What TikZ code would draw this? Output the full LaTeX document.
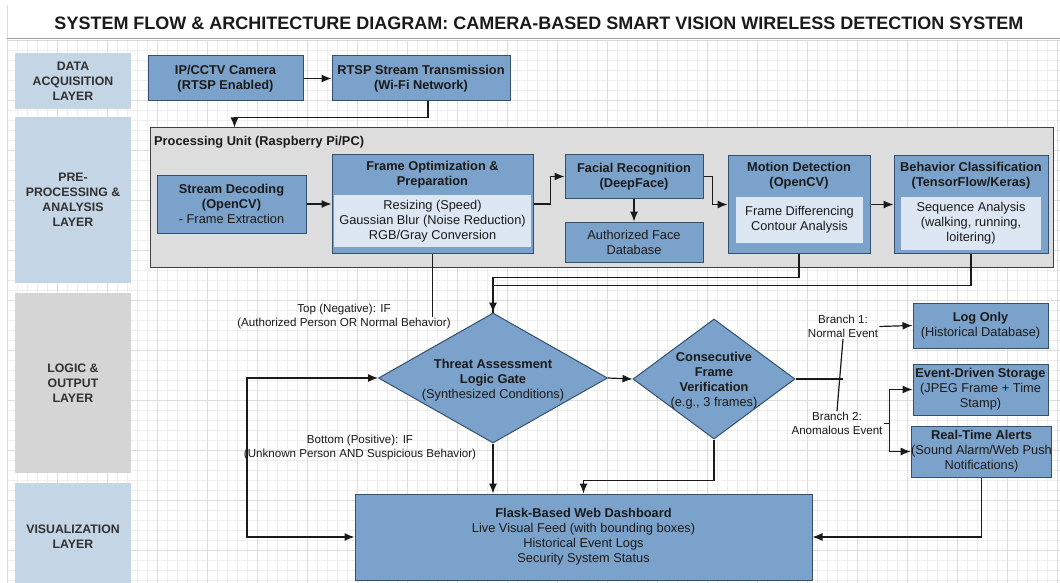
\documentclass[tikz,border=0pt]{standalone}
\usepackage{fontspec}
\setmainfont{Liberation Sans}
\usetikzlibrary{shapes.geometric,arrows.meta,calc}

\definecolor{boxblue}{HTML}{7BA2CA}
\definecolor{boxedge}{HTML}{34506E}
\definecolor{innerblue}{HTML}{DCE7F3}
\definecolor{layerblue}{HTML}{C4D5E5}
\definecolor{layergray}{HTML}{D5D5D5}
\definecolor{unitgray}{HTML}{DDDDDD}
\definecolor{gridminor}{HTML}{EEEEEE}
\definecolor{gridmajor}{HTML}{DDDDDD}
\definecolor{ink}{HTML}{1A1A1A}

\newcommand\bxf{\fontsize{12.8}{15}\selectfont}
\newcommand\lblf{\fontsize{11.6}{14}\selectfont}
\newcommand\layf{\fontsize{12.3}{15}\selectfont}
\newcommand\ttlf{\fontsize{18}{22}\selectfont}

\tikzset{
  box/.style={draw=boxedge, fill=boxblue, line width=1pt, inner sep=0pt, align=center, font=\bxf, text=ink},
  innerbox/.style={fill=innerblue, draw=none, inner sep=0pt},
  txt/.style={align=center, font=\bxf, text=ink, inner sep=0pt},
  layer/.style={fill=#1, draw=none, inner sep=0pt},
  laytxt/.style={align=center, font=\layf\bfseries, text=ink!90},
  lbl/.style={align=center, font=\lblf, text=ink, inner sep=1pt},
  decision/.style={diamond, draw=boxedge, fill=boxblue, line width=1pt, inner sep=0pt},
  arr/.style={-{Latex[length=10pt,width=8pt]}, line width=1.2pt, draw=ink},
  biarr/.style={{Latex[length=10pt,width=8pt]}-{Latex[length=10pt,width=8pt]}, line width=1.2pt, draw=ink},
  ln/.style={line width=1.2pt, draw=ink}
}

\begin{document}
\begin{tikzpicture}[x=1pt,y=-1pt]
\useasboundingbox (0,0) rectangle (1060,583);
\fill[white] (0,0) rectangle (1060,583);

% background grid
\foreach \gx in {17,27,...,1057} \draw[gridminor, line width=0.5pt] (\gx,40) -- (\gx,583);
\foreach \gy in {50,60,...,583} \draw[gridminor, line width=0.5pt] (7,\gy) -- (1060,\gy);
\foreach \gx in {57,107,...,1057} \draw[gridmajor, line width=0.6pt] (\gx,40) -- (\gx,583);
\foreach \gy in {100,150,...,583} \draw[gridmajor, line width=0.6pt] (7,\gy) -- (1060,\gy);
\draw[gridmajor, line width=0.6pt] (7,583) -- (7,5) -- (1060,5);

% title band
\fill[white] (7.5,5.5) rectangle (1060,38);
\draw[gray!75, line width=1.6pt] (7,38.5) -- (1060,38.5);
\draw[gray!30, line width=1pt] (7,40.5) -- (1060,40.5);
\node[font=\ttlf\bfseries, text=ink] (title) at (539,23)
  {SYSTEM FLOW \& ARCHITECTURE DIAGRAM: CAMERA-BASED SMART VISION WIRELESS DETECTION SYSTEM};

% layer column
\node[layer=layerblue, minimum width=116, minimum height=56] (l1) at (73,81) {};
\node[layer=layerblue, minimum width=116, minimum height=166] (l2) at (73,200) {};
\node[layer=layergray, minimum width=116, minimum height=180] (l3) at (73,383) {};
\node[layer=layerblue, minimum width=116, minimum height=100] (l4) at (73,533) {};
\node[laytxt] (l1t) at (73,81) {DATA\\ACQUISITION\\LAYER};
\node[laytxt] (l2t) at (73,200) {PRE-\\PROCESSING \&\\ANALYSIS\\LAYER};
\node[laytxt] (l3t) at (73,383) {LOGIC \&\\OUTPUT\\LAYER};
\node[laytxt] (l4t) at (73,537) {VISUALIZATION\\LAYER};

% data acquisition
\node[box, minimum width=155, minimum height=45] (cam) at (225.5,78.5)
  {\bfseries IP/CCTV Camera\\\bfseries (RTSP Enabled)};
\node[box, minimum width=178, minimum height=45] (rtsp) at (421,78.5)
  {\bfseries RTSP Stream Transmission\\\bfseries (Wi-Fi Network)};

% processing unit
\node[draw=black!75, fill=unitgray, line width=1pt, minimum width=903, minimum height=139, inner sep=0pt] (pu) at (601.5,197.5) {};
\node[font=\bxf\bfseries, text=ink, anchor=west, inner sep=0pt] (pulabel) at (154,142) {Processing Unit (Raspberry Pi/PC)};

\node[box, minimum width=149, minimum height=58] (sd) at (231.5,204)
  {\bfseries Stream Decoding\\\bfseries (OpenCV)\\- Frame Extraction};

\node[box, minimum width=201, minimum height=98] (fo) at (432.5,204) {};
\node[innerbox, minimum width=197, minimum height=52] (foin) at (432.5,221) {};
\node[txt, font=\bxf\bfseries] (fohead) at (432.5,175) {Frame Optimization \&\\Preparation};
\node[txt] (fobody) at (432.5,221) {Resizing (Speed)\\Gaussian Blur (Noise Reduction)\\RGB/Gray Conversion};

\node[box, minimum width=138, minimum height=43] (fr) at (634,176.5)
  {\bfseries Facial Recognition\\\bfseries (DeepFace)};
\node[box, minimum width=138, minimum height=40] (db) at (634,242)
  {Authorized Face\\Database};

\node[box, minimum width=142, minimum height=97] (md) at (799,204.5) {};
\node[innerbox, minimum width=127, minimum height=46] (mdin) at (799.5,220) {};
\node[txt, font=\bxf\bfseries] (mdhead) at (799,176) {Motion Detection\\(OpenCV)};
\node[txt] (mdbody) at (799.5,220) {Frame Differencing\\Contour Analysis};

\node[box, minimum width=154, minimum height=97] (bc) at (971,204.5) {};
\node[innerbox, minimum width=140, minimum height=53] (bcin) at (971,223.5) {};
\node[txt, font=\bxf\bfseries] (bchead) at (971,176) {Behavior Classification\\(TensorFlow/Keras)};
\node[txt] (bcbody) at (971,223.5) {Sequence Analysis\\(walking, running,\\loitering)};

% logic layer
\node[decision, minimum width=229, minimum height=130] (ta) at (493,378) {};
\node[txt] (tat) at (493,380) {\bfseries Threat Assessment\\\bfseries Logic Gate\\(Synthesized Conditions)};
\node[decision, minimum width=162, minimum height=120] (cf) at (714,379) {};
\node[txt] (cft) at (714,381) {\bfseries Consecutive\\\bfseries Frame\\\bfseries Verification\\(e.g., 3 frames)};

\node[box, minimum width=135, minimum height=45] (log) at (980.5,325.5)
  {\bfseries Log Only\\(Historical Database)};
\node[box, minimum width=135, minimum height=51] (es) at (980.5,389.5)
  {\bfseries Event-Driven Storage\\(JPEG Frame + Time\\Stamp)};
\node[box, minimum width=137, minimum height=51] (ra) at (981.5,451.5)
  {\bfseries Real-Time Alerts\\(Sound Alarm/Web Push\\Notifications)};

\node[lbl] (toplbl) at (344,316) {Top (Negative): IF\\(Authorized Person OR Normal Behavior)};
\node[lbl] (botlbl) at (360,447) {Bottom (Positive): IF\\(Unknown Person AND Suspicious Behavior)};
\node[lbl] (b1) at (843,326.5) {Branch 1:\\Normal Event};
\node[lbl] (b2) at (837,423.5) {Branch 2:\\Anomalous Event};

% visualization
\node[box, minimum width=457, minimum height=86] (dash) at (583.5,537)
  {\bfseries Flask-Based Web Dashboard\\Live Visual Feed (with bounding boxes)\\Historical Event Logs\\Security System Status};

% connectors: acquisition and processing chain
\draw[arr] (cam.east) -- (rtsp.west);
\draw[arr] ([xshift=7pt]rtsp.south) -- ++(0,16) -| ([xshift=85pt]pu.north west);
\draw[arr] (sd.east) -- (fo.west);
\draw[arr] (fo.east) -- ++(17,0) |- (fr.west);
\draw[arr] (fr.south) -- (db.north);
\draw[arr] (fr.east) -- ++(9,0) |- (md.west);
\draw[arr] (md.east) -- (bc.west);

% connectors into the decision logic
\draw[ln] (fo.south) -- ++(0,63);
\draw[ln] (bc.south) -- ++(0,32) -| (ta.north);
\draw[arr] (md.south) -- ++(0,24) -| (ta.north);
\draw[arr] (ta.east) -- (cf.west);
\draw[biarr] (ta.west) -- ++(-131,0) |- (dash.west);
\draw[arr] (ta.south) -- (ta.south |- dash.north);
\draw[arr] (cf.south) -- ++(0,41) -| (dash.north);

% branching outputs
\draw[ln] (cf.east) -- (cf.east -| b1.south);
\draw[ln] (b1.south) -- (b2.north);
\draw[arr] (b1.east) -- (log.west);
\draw[ln] (b2.east) -- ++(6,0) coordinate (bj);
\draw[arr] (bj) |- (es.west);
\draw[arr] (bj) |- (ra.west);
\draw[arr] (ra.south) |- (dash.east);
\end{tikzpicture}
\end{document}
